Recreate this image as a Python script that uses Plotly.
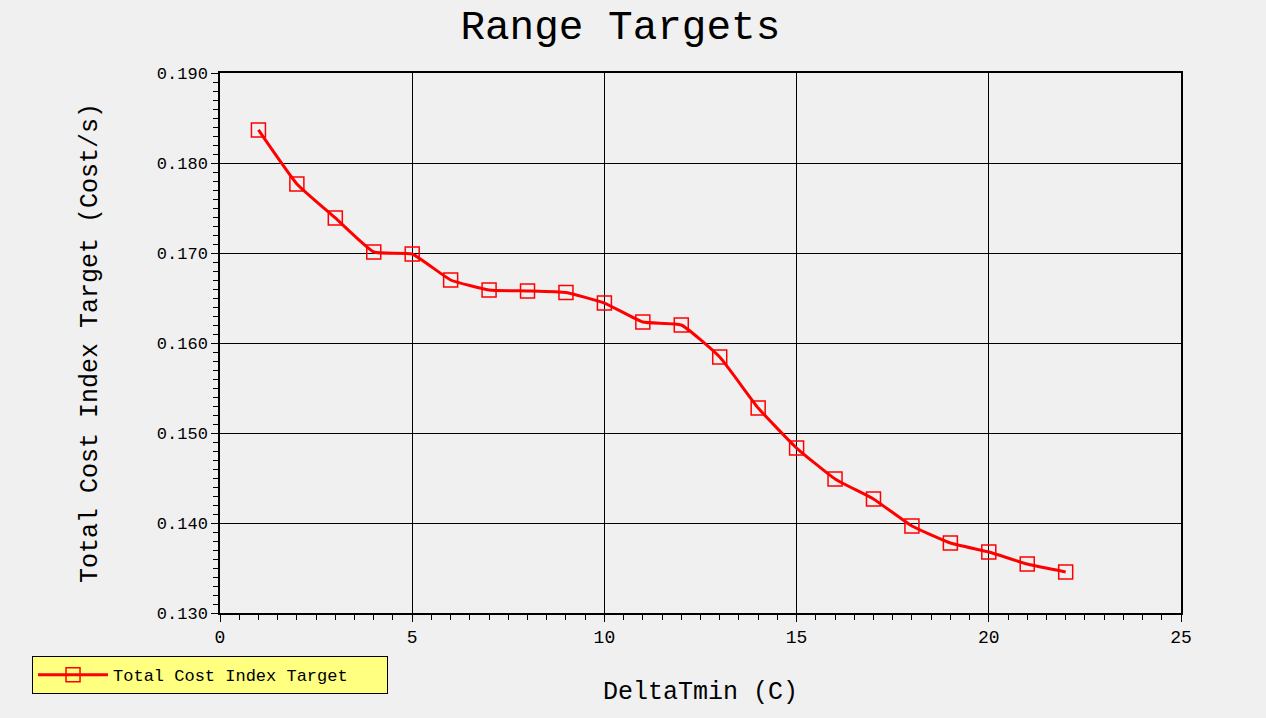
import plotly.graph_objects as go

# DeltaTmin values and total cost index targets
delta_tmin = [1, 2, 3, 4, 5, 6, 7, 8, 9, 10, 11, 12, 13, 14, 15, 16, 17, 18, 19, 20, 21, 22]
cost_target = [0.18367, 0.17767, 0.17389, 0.17011, 0.16989, 0.16700, 0.16589, 0.16578,
               0.16560, 0.16444, 0.16233, 0.16200, 0.15844, 0.15278, 0.14833, 0.14489,
               0.14267, 0.13967, 0.13778, 0.13678, 0.13544, 0.13456]

series_name = "Total Cost Index Target"
FONT = "Liberation Mono"
BG = "#f0f0f0"

fig = go.Figure()
fig.add_trace(go.Scatter(
    x=delta_tmin, y=cost_target, name=series_name,
    mode="lines+markers",
    line=dict(color="red", width=3, shape="spline", smoothing=0.4),
    marker=dict(symbol="square-open", size=14, color="red", line=dict(width=1.5, color="red")),
))

fig.update_layout(
    width=1266, height=718,
    paper_bgcolor=BG, plot_bgcolor=BG,
    margin=dict(l=220, r=85, t=73, b=105),
    font=dict(family=FONT, color="black"),
    title=dict(text="Range Targets", x=0.49, xanchor="center", y=0.985, yanchor="top",
               font=dict(family=FONT, size=41, color="black")),
    showlegend=True,
    legend=dict(x=-0.1956, y=-0.08, xanchor="left", yanchor="top",
                orientation="h", entrywidth=269,
                bgcolor="#ffff80", bordercolor="black", borderwidth=1,
                font=dict(family=FONT, size=17, color="black"),
                itemwidth=70),
)

fig.update_xaxes(
    range=[0, 25], dtick=5, tick0=0,
    showgrid=True, gridcolor="black", gridwidth=1,
    showline=True, linecolor="black", linewidth=1.5, mirror=True,
    ticks="outside", ticklen=7, tickcolor="black",
    minor=dict(dtick=0.5, ticks="outside", ticklen=5, tickcolor="black", showgrid=False),
    zeroline=False,
    tickfont=dict(family=FONT, size=18),
    title=dict(text="DeltaTmin (C)", font=dict(family=FONT, size=25), standoff=34),
)
fig.update_yaxes(
    range=[0.130, 0.190], dtick=0.01, tick0=0.13, tickformat=".3f",
    showgrid=True, gridcolor="black", gridwidth=1,
    showline=True, linecolor="black", linewidth=1.5, mirror=True,
    ticks="outside", ticklen=7, tickcolor="black",
    minor=dict(dtick=0.001, ticks="outside", ticklen=5, tickcolor="black", showgrid=False),
    zeroline=False,
    tickfont=dict(family=FONT, size=17),
    title=dict(text="Total Cost Index Target (Cost/s)", font=dict(family=FONT, size=25), standoff=52),
)

fig.write_html(
    "out.html",
    config={"displayModeBar": False},
    post_script="document.body.style.margin='0';document.body.style.background='#f0f0f0';",
)
